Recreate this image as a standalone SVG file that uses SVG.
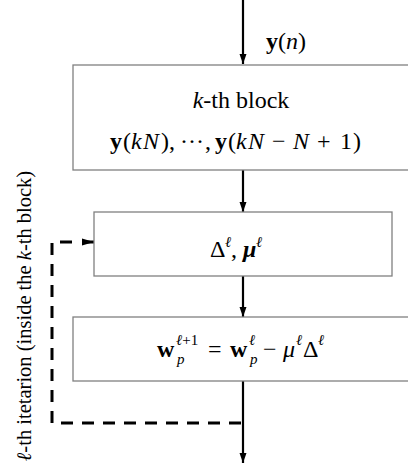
<svg xmlns="http://www.w3.org/2000/svg" width="408" height="472" viewBox="0 0 408 472">
<style>
.box{fill:#fff;stroke:#808080;stroke-width:1.3}
.t{font-family:"Liberation Serif","Times New Roman",serif;font-size:24px;fill:#000}
.lbl{font-family:"Liberation Serif","Times New Roman",serif;font-size:20.5px;fill:#000}
.s{font-family:"Liberation Serif","Times New Roman",serif;font-size:15px;font-style:italic;fill:#000}
.i{font-style:italic}
.b{font-weight:bold}
.line{stroke:#000;stroke-width:2.2;fill:none}
.dash{stroke:#000;stroke-width:3;fill:none;stroke-dasharray:12 9}
</style>
<defs>
<marker id="ah" viewBox="0 0 10 10" refX="10" refY="5" markerWidth="10" markerHeight="10" markerUnits="userSpaceOnUse" orient="auto">
<path d="M0,1.5 L10,5 L0,8.5 Z" fill="#000"/>
</marker>
<marker id="ahd" viewBox="0 0 10 10" refX="10" refY="5" markerWidth="12" markerHeight="12" markerUnits="userSpaceOnUse" orient="auto">
<path d="M0,2 L10,5 L0,8 Z" fill="#000"/>
</marker>
</defs>
<g id="connectors">
<line class="line" x1="243" y1="0" x2="243" y2="64" marker-end="url(#ah)"/>
<line class="line" x1="243" y1="170" x2="243" y2="212" marker-end="url(#ah)"/>
<line class="line" x1="243" y1="276" x2="243" y2="317" marker-end="url(#ah)"/>
<line class="line" x1="243" y1="381" x2="243" y2="463" marker-end="url(#ah)"/>
<path class="dash" d="M241,423 H52 V242 H72"/>
<line x1="72" y1="242" x2="94" y2="242" stroke="#000" stroke-width="3" stroke-dasharray="0 10 12" marker-end="url(#ahd)"/>
<text class="t" x="266" y="49"><tspan class="b">y</tspan>(<tspan class="i">n</tspan>)</text>
</g>
<g id="block-k">
<rect class="box" x="73" y="65" width="340" height="105"/>
<text class="t" x="241" y="108" text-anchor="middle"><tspan class="i">k</tspan>-th block</text>
<text class="t" y="149"><tspan class="b" x="110">y</tspan><tspan x="123">(</tspan><tspan class="i" x="131">k</tspan><tspan class="i" x="143">N</tspan><tspan x="161">)</tspan><tspan x="169">,</tspan><tspan x="180">·</tspan><tspan x="188">·</tspan><tspan x="196">·</tspan><tspan x="205">,</tspan><tspan class="b" x="215">y</tspan><tspan x="228">(</tspan><tspan class="i" x="236">k</tspan><tspan class="i" x="248">N</tspan><tspan x="272">−</tspan><tspan class="i" x="293">N</tspan><tspan x="317">+</tspan><tspan x="340">1</tspan><tspan x="353">)</tspan></text>
</g>
<g id="delta-mu">
<rect class="box" x="94" y="212" width="298" height="64"/>
<text class="t" x="210" y="257">Δ</text>
<text class="s" x="225" y="247">ℓ</text>
<text class="t" x="231" y="257">,</text>
<text class="t i b" x="243" y="257">μ</text>
<text class="s" x="256" y="247">ℓ</text>
</g>
<g id="update">
<rect class="box" x="73" y="317" width="340" height="64"/>
<text class="t b" x="157" y="357">w</text>
<text class="s" x="176" y="345">ℓ<tspan font-style="normal">+1</tspan></text>
<text class="s" x="177" y="364">p</text>
<text class="t" x="208" y="357">=</text>
<text class="t b" x="230" y="357">w</text>
<text class="s" x="249" y="345">ℓ</text>
<text class="s" x="250" y="364">p</text>
<text class="t" x="263" y="357">−</text>
<text class="t i" x="283" y="357">μ</text>
<text class="s" x="296" y="345">ℓ</text>
<text class="t" x="303" y="357">Δ</text>
<text class="s" x="318" y="345">ℓ</text>
</g>
<g id="iteration-label">
<text class="lbl" transform="translate(31,316) rotate(-90)" text-anchor="middle"><tspan class="i">ℓ</tspan>-th itetarion (inside the <tspan class="i">k</tspan>-th block)</text>
</g>
</svg>
